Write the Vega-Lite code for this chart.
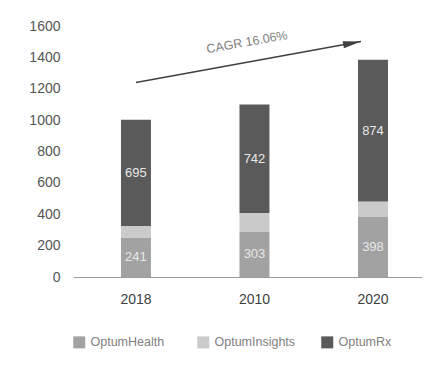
{
  "$schema": "https://vega.github.io/schema/vega-lite/v6.json",
  "width": 349,
  "height": 251,
  "autosize": {"type": "none"},
  "padding": {"left": 73, "top": 26, "right": 26, "bottom": 92},
  "config": {
    "font": "Liberation Sans",
    "view": {"stroke": null},
    "axis": {"grid": false, "ticks": false, "title": null},
    "axisX": {"labelAngle": 0, "labelFontSize": 14, "labelColor": "#404040", "labelPadding": 15, "domainColor": "#9a9a9a", "domainWidth": 1},
    "axisY": {"tickCount": 9, "format": "d", "labelOverlap": false, "domain": false, "labelFontSize": 14, "labelColor": "#555555", "labelPadding": 13}
  },
  "data": {
    "values": [
      {"year": "2018", "segment": "OptumHealth", "value": 251, "label": "241"},
      {"year": "2018", "segment": "OptumInsights", "value": 74, "label": ""},
      {"year": "2018", "segment": "OptumRx", "value": 678, "label": "695"},
      {"year": "2010", "segment": "OptumHealth", "value": 287, "label": "303"},
      {"year": "2010", "segment": "OptumInsights", "value": 121, "label": ""},
      {"year": "2010", "segment": "OptumRx", "value": 692, "label": "742"},
      {"year": "2020", "segment": "OptumHealth", "value": 382, "label": "398"},
      {"year": "2020", "segment": "OptumInsights", "value": 100, "label": ""},
      {"year": "2020", "segment": "OptumRx", "value": 903, "label": "874"}
    ]
  },
  "layer": [
    {
      "mark": {"type": "bar"},
      "encoding": {
        "x": {
          "field": "year", "type": "nominal",
          "scale": {"domain": ["2018", "2010", "2020"], "paddingInner": 0.747, "paddingOuter": 0.346, "align": 0.585}
        },
        "y": {
          "field": "value", "type": "quantitative", "stack": "zero",
          "scale": {"domain": [0, 1600], "nice": false}
        },
        "order": {"field": "segment", "sort": "ascending"},
        "color": {
          "field": "segment", "type": "nominal",
          "scale": {"domain": ["OptumHealth", "OptumInsights", "OptumRx"], "range": ["#a2a2a2", "#cacaca", "#5a5a5a"]},
          "legend": {
            "title": null, "orient": "none", "legendX": 0, "legendY": 310,
            "direction": "horizontal", "columns": 3, "gridAlign": "all", "columnPadding": 25,
            "symbolType": "square", "symbolSize": 144, "symbolStrokeWidth": 0, "symbolOpacity": 1,
            "labelFontSize": 12.5, "labelColor": "#808080", "labelOffset": 5, "padding": 0
          }
        }
      }
    },
    {
      "transform": [
        {"stack": "value", "groupby": ["year"], "sort": [{"field": "segment"}], "as": ["v0", "v1"]},
        {"calculate": "(datum.v0 + datum.v1) / 2", "as": "mid"}
      ],
      "mark": {"type": "text", "fontSize": 13, "color": "#e8e8e8", "baseline": "middle", "align": "center"},
      "encoding": {
        "x": {"field": "year", "type": "nominal", "scale": {"domain": ["2018", "2010", "2020"]}},
        "y": {"field": "mid", "type": "quantitative"},
        "text": {"field": "label"}
      }
    },
    {
      "data": {"values": [{"start": "2018", "mid": "2010", "end": "2020", "v0": 1240, "v1": 1501, "tv": 1497, "note": "CAGR 16.06%"}]},
      "layer": [
        {
          "mark": {"type": "rule", "color": "#404040", "strokeWidth": 1.5, "x2Offset": -12},
          "encoding": {
            "x": {"field": "start", "type": "nominal", "scale": {"domain": ["2018", "2010", "2020"]}},
            "x2": {"field": "end"},
            "y": {"field": "v0", "type": "quantitative"},
            "y2": {"field": "v1"}
          }
        },
        {
          "mark": {"type": "point", "shape": "M-2,-0.4L0,0L-2,0.4Z", "size": 324, "filled": true, "color": "#404040", "opacity": 1, "angle": -10.3, "xOffset": -12},
          "encoding": {
            "x": {"field": "end", "type": "nominal", "scale": {"domain": ["2018", "2010", "2020"]}},
            "y": {"field": "v1", "type": "quantitative"}
          }
        },
        {
          "mark": {"type": "text", "fontSize": 12.5, "color": "#808080", "angle": -10, "xOffset": -7.5, "baseline": "middle", "align": "center"},
          "encoding": {
            "x": {"field": "mid", "type": "nominal", "scale": {"domain": ["2018", "2010", "2020"]}},
            "y": {"field": "tv", "type": "quantitative"},
            "text": {"field": "note"}
          }
        }
      ]
    }
  ]
}
